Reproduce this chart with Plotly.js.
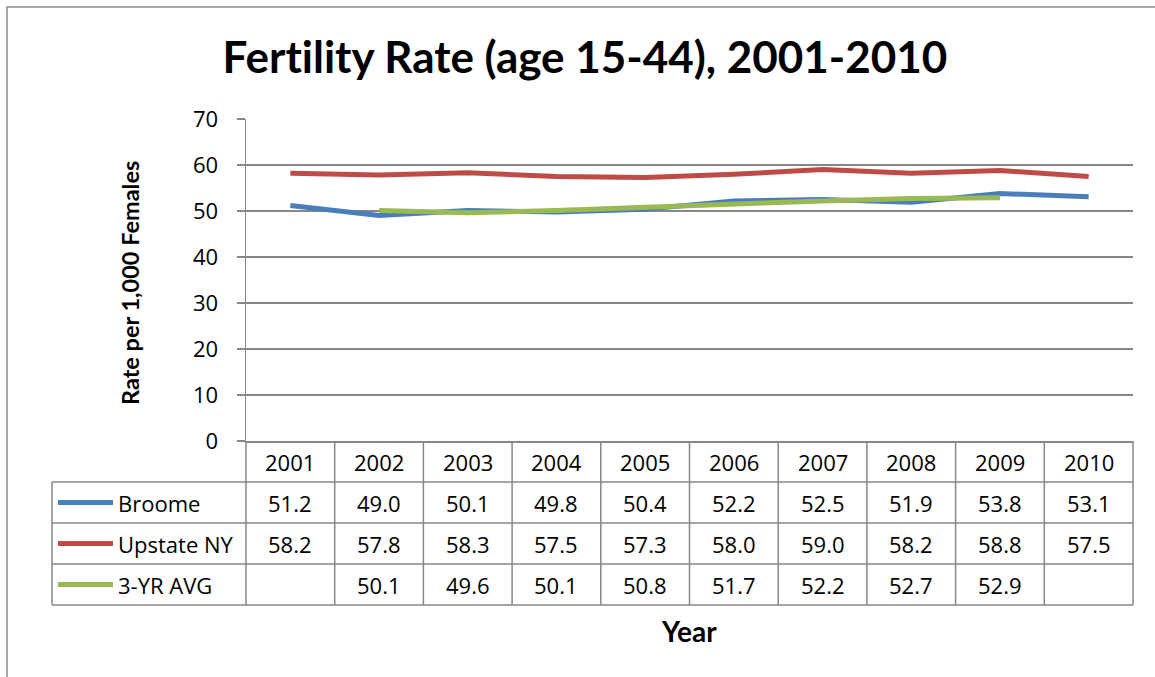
<!DOCTYPE html>
<html><head><meta charset="utf-8">
<script src="https://cdn.plot.ly/plotly-3.0.1.min.js"></script>
<style>html,body{margin:0;padding:0;background:#fff;} svg text{font-variant-ligatures:none !important;font-feature-settings:"liga" 0,"clig" 0 !important;}</style>
</head><body><div id="chart" style="width:1155px;height:677px;"></div>
<script>
// ---- data ----
const years = ['2001','2002','2003','2004','2005','2006','2007','2008','2009','2010'];
const broome = [51.2, 49.0, 50.1, 49.8, 50.4, 52.2, 52.5, 51.9, 53.8, 53.1];
const upstate = [58.2, 57.8, 58.3, 57.5, 57.3, 58.0, 59.0, 58.2, 58.8, 57.5];
const avg3 = [null, 50.1, 49.6, 50.1, 50.8, 51.7, 52.2, 52.7, 52.9, null];
const seriesNames = ['Broome', 'Upstate NY', '3-YR AVG'];
const yTicks = [0, 10, 20, 30, 40, 50, 60, 70];
const titleText = 'Fertility Rate (age 15-44), 2001-2010';
const yTitle = 'Rate per 1,000 Females';
const xTitle = 'Year';

// ---- styling / layout ----
const colors = ['#4A7EBB', '#BE4B48', '#98B954'];
const BOLDFONT = 'Lato, Carlito, Calibri, sans-serif';
const FONT = '"Open Sans", Carlito, Calibri, sans-serif';
const TXT = 22;
const GRID = '#878787';
const W = 1155, H = 677;
const L = 246, R = 1133, T = 119, B = 441;
const fx = p => (p - L) / (R - L);
const fy = p => (B - p) / (B - T);
const rowEdges = [441, 482, 523, 564, 605];
const legendLeft = 52;
// zero-width non-joiner keeps the font from fusing "ti" into a ligature
const noLig = s => s.replace(/ti/g, 't\u200Ci');

const series = [broome, upstate, avg3];
const traces = series.map((vals, i) => ({
  type: 'scatter', mode: 'lines', x: years, y: vals, name: seriesNames[i],
  line: {color: colors[i], width: 5}, connectgaps: false, hoverinfo: 'skip'
}));

const shapes = [];
const annotations = [];
// outer chart border (right/bottom fall outside the picture)
shapes.push({type: 'rect', xref: 'paper', yref: 'paper', x0: fx(7), x1: fx(1200), y0: fy(7), y1: fy(720),
  line: {color: '#8a8a8a', width: 1.5}});
// table column lines
const N = years.length;
for (let k = 0; k <= N; k++) {
  shapes.push({type: 'line', xref: 'paper', yref: 'paper', x0: k / N, x1: k / N,
    y0: fy(rowEdges[0]), y1: fy(rowEdges[rowEdges.length - 1]), line: {color: GRID, width: 1.5}});
}
// table row lines
for (let r = 1; r < rowEdges.length; r++) {
  shapes.push({type: 'line', xref: 'paper', yref: 'paper', x0: fx(legendLeft), x1: 1,
    y0: fy(rowEdges[r]), y1: fy(rowEdges[r]), line: {color: GRID, width: 1.5}});
}
// legend column left edge
shapes.push({type: 'line', xref: 'paper', yref: 'paper', x0: fx(legendLeft), x1: fx(legendLeft),
  y0: fy(rowEdges[1]), y1: fy(rowEdges[rowEdges.length - 1]), line: {color: GRID, width: 1.5}});

// header years
years.forEach((yr, j) => annotations.push({xref: 'x', yref: 'paper', x: j,
  y: fy((rowEdges[0] + rowEdges[1]) / 2), xanchor: 'center', yanchor: 'middle', text: yr, showarrow: false,
  font: {family: FONT, size: TXT, color: '#000'}}));
// rows
series.forEach((vals, i) => {
  const cy = fy((rowEdges[i + 1] + rowEdges[i + 2]) / 2);
  shapes.push({type: 'line', xref: 'paper', yref: 'paper', x0: fx(58), x1: fx(113), y0: cy, y1: cy,
    line: {color: colors[i], width: 5}});
  annotations.push({xref: 'paper', yref: 'paper', x: fx(116), y: cy, xanchor: 'left', yanchor: 'middle',
    text: seriesNames[i], showarrow: false, font: {family: FONT, size: TXT, color: '#000'}});
  vals.forEach((v, j) => {
    if (v === null) return;
    annotations.push({xref: 'x', yref: 'paper', x: j, y: cy, xanchor: 'center', yanchor: 'middle',
      text: v.toFixed(1), showarrow: false, font: {family: FONT, size: TXT, color: '#000'}});
  });
});
// axis titles
annotations.push({xref: 'paper', yref: 'paper', x: fx(130), y: fy(283), xanchor: 'center', yanchor: 'middle',
  text: '<b>' + yTitle + '</b>', textangle: -90, showarrow: false,
  font: {family: BOLDFONT, size: 23.5, color: '#000'}});
annotations.push({xref: 'paper', yref: 'paper', x: fx(689), y: fy(631), xanchor: 'center', yanchor: 'middle',
  text: '<b>' + xTitle + '</b>', showarrow: false, font: {family: BOLDFONT, size: 28, color: '#000'}});

const layout = {
  width: W, height: H,
  margin: {l: L, r: W - R, t: T, b: H - B, pad: 0},
  paper_bgcolor: '#fff', plot_bgcolor: '#fff',
  showlegend: false,
  title: {text: '<b>' + noLig(titleText) + '</b>', xref: 'container', yref: 'container',
    x: 585 / W, xanchor: 'center', y: 1 - 58 / H, yanchor: 'middle',
    font: {family: BOLDFONT, size: 44, color: '#000'}},
  xaxis: {type: 'category', range: [-0.5, N - 0.5], showticklabels: false, ticks: '',
    showgrid: false, showline: true, linecolor: GRID, linewidth: 1.5, zeroline: false, fixedrange: true},
  yaxis: {range: [0, 70], tickvals: yTicks, ticktext: yTicks.map(String), ticks: 'outside', ticklen: 8,
    tickcolor: GRID, tickwidth: 1.5, showgrid: true, gridcolor: GRID, gridwidth: 1.5, showline: true,
    linecolor: GRID, linewidth: 1.5, zeroline: false, tickfont: {family: FONT, size: TXT, color: '#000'},
    ticklabelstandoff: 14, fixedrange: true},
  shapes: shapes,
  annotations: annotations
};
Plotly.newPlot('chart', traces, layout, {staticPlot: true, displayModeBar: false});
</script></body></html>
